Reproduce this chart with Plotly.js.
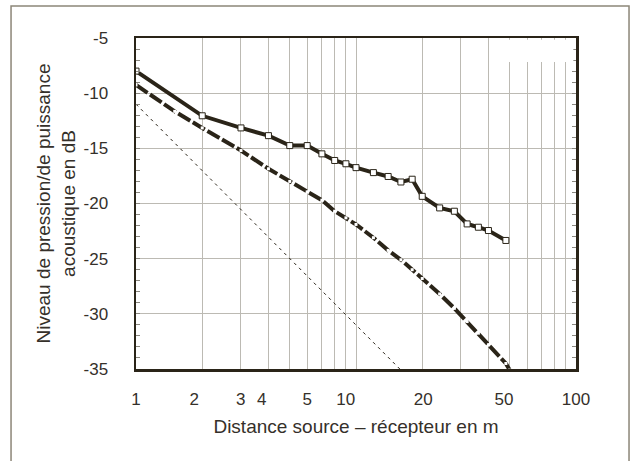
<!DOCTYPE html>
<html>
<head>
<meta charset="utf-8">
<script src="https://cdn.plot.ly/plotly-3.0.1.min.js"></script>
<style>html,body{margin:0;padding:0;background:#fff;}#chart{width:637px;height:461px;}</style>
</head>
<body>
<div id="chart"></div>
<script>
// Upper curve (measured, square markers)
const upperX = [1, 2, 3, 4, 5, 6, 7, 8, 9, 10, 12, 14, 16, 18, 20, 24, 28, 32, 36, 40, 48];
const upperY = [-8.0, -12.05, -13.15, -13.85, -14.75, -14.75, -15.5, -16.1, -16.4, -16.75, -17.2, -17.55, -18.05, -17.8, -19.35, -20.4, -20.7, -21.85, -22.15, -22.45, -23.35];
// Lower curve (thick dashed)
const lowerX = [1, 1.5, 2, 3, 4, 5, 6, 7, 8, 9, 10, 12, 14, 16, 18, 20, 24, 28, 32, 36, 40, 48, 50];
const lowerY = [-9.25, -11.65, -13.15, -15.2, -16.85, -18.0, -18.95, -19.7, -20.7, -21.3, -21.9, -23.1, -24.25, -25.1, -26.0, -26.8, -28.2, -29.5, -30.7, -31.75, -32.8, -34.5, -35.1];
// Thin dotted reference line
const refX = [1, 10, 16];
const refY = [-11, -31, -35.1];
// Axis labels as printed
const xTickText = ["1", "2", "3", "4", "5", "10", "20", "50", "100"];
const xTickPos = [1, 1.84, 2.99, 3.73, 6.0, 8.98, 20.2, 47.1, 100];
const xGrid = [1, 2, 3, 4, 5, 6, 7, 8, 9, 10, 20, 30, 40, 50, 60, 70, 80, 90, 100];
const yTickVals = [-35, -30, -25, -20, -15, -10, -5];
const yTickText = ["-35", "-30", "-25", "-20", "-15", "-10", "-5"];

const ink = '#2a2418';
const txt = '#35302a';
const grid = '#bcbab3';
const font = 'Liberation Sans, Arial, Helvetica, sans-serif';

const traces = [
  {x: refX, y: refY, mode: 'lines', line: {color: ink, width: 1, dash: '3px,4px'}, hoverinfo: 'skip'},
  {x: lowerX, y: lowerY, mode: 'lines+markers', line: {color: ink, width: 4, dash: '14px,3px'},
   marker: {symbol: 'square', size: 3, color: '#ffffff', line: {width: 0}}},
  {x: upperX, y: upperY, mode: 'lines+markers', line: {color: ink, width: 4},
   marker: {symbol: 'square', size: 6, color: '#ffffff', line: {color: ink, width: 1}}}
];

const layout = {
  width: 637, height: 461,
  margin: {l: 136, r: 61, t: 38, b: 92},
  paper_bgcolor: '#ffffff', plot_bgcolor: '#ffffff',
  showlegend: false,
  font: {family: font, color: txt, size: 17},
  xaxis: {
    type: 'log', range: [0, 2], autorange: false,
    tickmode: 'array', tickvals: xTickPos, ticktext: xTickText,
    ticks: '', ticklabelstandoff: 13,
    showgrid: false, zeroline: false,
    showline: true, linecolor: ink, linewidth: 2.5, mirror: true,
    minor: {tickmode: 'array', tickvals: xGrid, showgrid: true, gridcolor: grid, gridwidth: 1, ticks: ''},
    tickfont: {size: 17, color: txt},
    title: {text: 'Distance source – récepteur en m', font: {size: 19, color: txt}, standoff: 12},
    automargin: false
  },
  yaxis: {
    range: [-35, -5], autorange: false,
    tickmode: 'array', tickvals: yTickVals, ticktext: yTickText,
    showgrid: true, gridcolor: grid, gridwidth: 1, zeroline: false,
    showline: true, linecolor: ink, linewidth: 2.5, mirror: 'ticks',
    ticks: 'inside', ticklen: 4, tickcolor: '#8a877f', tickwidth: 1,
    minor: {dtick: 1, ticks: 'inside', ticklen: 4, tickcolor: '#8a877f', tickwidth: 1, showgrid: false},
    ticklabelstandoff: 22,
    tickfont: {size: 17, color: txt},
    title: {text: 'Niveau de pression/de puissance<br>acoustique en dB', font: {size: 19, color: txt}, standoff: 3},
    automargin: false
  },
  shapes: [
    {type: 'rect', xref: 'paper', yref: 'paper', x0: 0.832, x1: 0.994, y0: 0.9275, y1: 0.995,
     fillcolor: '#ffffff', line: {width: 0}, layer: 'above'},
    {type: 'rect', xref: 'paper', yref: 'paper', x0: -0.284, x1: 1.1205, y0: -0.31, y1: 1.0967,
     fillcolor: 'rgba(0,0,0,0)', line: {color: '#8c8678', width: 1.5}, layer: 'below'}
  ]
};

Plotly.newPlot('chart', traces, layout, {displayModeBar: false, staticPlot: true});
</script>
</body>
</html>
